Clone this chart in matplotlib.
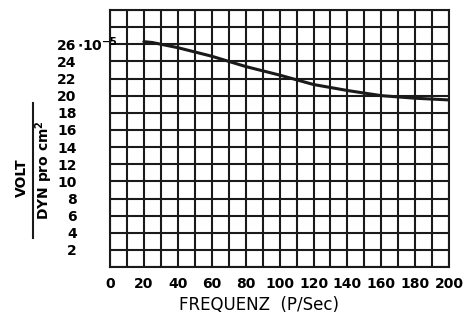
import matplotlib.pyplot as plt
from matplotlib.lines import Line2D

# values (volt per dyn/cm^2, x 10^-5)
freq = [20, 25, 30, 40, 50, 60, 70, 80, 100, 120, 140, 160, 180, 200]
volt = [26.3, 26.2, 26.0, 25.6, 25.1, 24.6, 24.0, 23.4, 22.4, 21.3, 20.6, 20.0, 19.7, 19.5]

xticks = list(range(0, 201, 20))
yticks = list(range(2, 27, 2))

plt.rcParams['font.family'] = 'DejaVu Sans'
plt.rcParams['font.weight'] = 'bold'

fig = plt.figure(figsize=(4.66, 3.21), dpi=100)
ax = fig.add_axes([0.236, 0.168, 0.728, 0.801])

# hand drawn grid: every 10 on x, every 2 on y
for gx in range(0, 201, 10):
    ax.axvline(gx, color='#1a1a1a', lw=1.5, zorder=1)
for gy in range(0, 31, 2):
    ax.axhline(gy, color='#1a1a1a', lw=1.5, zorder=1)

ax.plot(freq, volt, color='#1a1a1a', lw=2.2, solid_capstyle='round', zorder=3)

ax.set_xlim(0, 200)
ax.set_ylim(0, 30)
ax.set_xticks(xticks)
ax.set_xticklabels([str(v) for v in xticks], fontsize=10)
ax.set_yticks(yticks)
ax.set_yticklabels([str(v) for v in yticks], fontsize=10)
ax.tick_params(axis='x', length=0, pad=7)
ax.tick_params(axis='y', length=0, pad=24)
for s in ax.spines.values():
    s.set_linewidth(1.5)
    s.set_color('#1a1a1a')

# exponent next to the 26 label
ax.text(-0.097, 26.0, r'$\mathbf{\cdot 10^{-5}}$', fontsize=10,
        transform=ax.get_yaxis_transform(), ha='left', va='center')

fig.text(0.555, 0.05, 'FREQUENZ  (P/Sec)', fontsize=12, fontweight='normal',
         ha='center', va='center')

# y label as a fraction
fig.text(0.048, 0.445, 'VOLT', fontsize=10, rotation=90, ha='center', va='center')
fig.add_artist(Line2D([0.071, 0.071], [0.26, 0.68], color='#1a1a1a', lw=1.5,
                      transform=fig.transFigure))
fig.text(0.095, 0.47, 'DYN pro cm$^2$', fontsize=10, rotation=90, ha='center', va='center')

fig.savefig('out.png', dpi=100)
